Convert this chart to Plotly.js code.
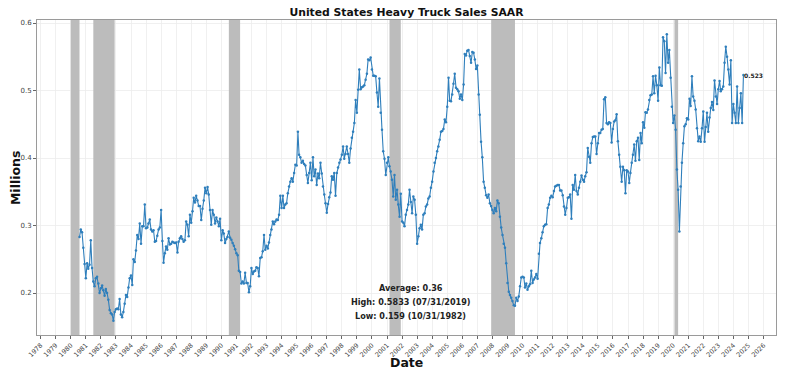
<!DOCTYPE html>
<html>
<head>
<meta charset="utf-8">
<script src="https://cdn.plot.ly/plotly-3.0.1.min.js"></script>
<style>html,body{margin:0;padding:0;background:#fff;}#chart{width:800px;height:374px;}</style>
</head>
<body>
<div id="chart"></div>
<script>
// Monthly values (millions), starting July 1980, month-end dates
const startYear = 1980;
const startMonth = 7;
const values1980s = [
  0.283, 0.294, 0.290, 0.267, 0.243, 0.222,
  0.244, 0.236, 0.242, 0.278, 0.237, 0.217, 0.210, 0.222, 0.224, 0.214, 0.200, 0.207,
  0.211, 0.204, 0.196, 0.206, 0.200, 0.190, 0.175, 0.170, 0.168, 0.159, 0.172, 0.176,
  0.177, 0.176, 0.191, 0.168, 0.164, 0.172, 0.184, 0.197, 0.194, 0.208, 0.222, 0.226,
  0.212, 0.250, 0.246, 0.263, 0.286, 0.280, 0.303, 0.273, 0.299, 0.299, 0.331, 0.296,
  0.297, 0.303, 0.309, 0.294, 0.291, 0.293, 0.276, 0.277, 0.285, 0.294, 0.297, 0.323,
  0.277, 0.245, 0.259, 0.269, 0.264, 0.281, 0.272, 0.273, 0.276, 0.275, 0.274, 0.275,
  0.260, 0.276, 0.281, 0.284, 0.280, 0.276, 0.278, 0.306, 0.301, 0.284, 0.316, 0.304,
  0.321, 0.341, 0.334, 0.344, 0.337, 0.329, 0.329, 0.308, 0.325, 0.337, 0.356, 0.348,
  0.357, 0.346, 0.323, 0.301, 0.323, 0.316, 0.303, 0.312, 0.306, 0.299, 0.310, 0.278
];
const values1990s = [
  0.293, 0.288, 0.274, 0.280, 0.283, 0.291, 0.282, 0.279, 0.274, 0.270, 0.265, 0.259,
  0.256, 0.233, 0.231, 0.214, 0.217, 0.214, 0.230, 0.215, 0.215, 0.201, 0.210, 0.237,
  0.228, 0.232, 0.233, 0.238, 0.237, 0.225, 0.252, 0.253, 0.262, 0.286, 0.264, 0.270,
  0.266, 0.275, 0.286, 0.294, 0.306, 0.302, 0.306, 0.309, 0.308, 0.316, 0.344, 0.326,
  0.344, 0.326, 0.331, 0.333, 0.348, 0.358, 0.365, 0.370, 0.365, 0.378, 0.390, 0.389,
  0.439, 0.405, 0.401, 0.393, 0.396, 0.391, 0.389, 0.375, 0.363, 0.378, 0.393, 0.367,
  0.401, 0.373, 0.383, 0.360, 0.377, 0.370, 0.393, 0.377, 0.358, 0.346, 0.333, 0.319,
  0.332, 0.342, 0.349, 0.373, 0.368, 0.378, 0.344, 0.378, 0.386, 0.393, 0.398, 0.405,
  0.417, 0.399, 0.406, 0.417, 0.406, 0.393, 0.414, 0.430, 0.439, 0.452, 0.486, 0.467,
  0.501, 0.531, 0.502, 0.505, 0.506, 0.508, 0.516, 0.525, 0.546, 0.545, 0.549, 0.531
];
const values2000s = [
  0.522, 0.522, 0.521, 0.497, 0.476, 0.518, 0.467, 0.442, 0.410, 0.399, 0.375, 0.393,
  0.401, 0.388, 0.380, 0.368, 0.343, 0.375, 0.338, 0.353, 0.331, 0.313, 0.347, 0.306,
  0.304, 0.299, 0.316, 0.323, 0.331, 0.353, 0.335, 0.318, 0.343, 0.338, 0.316, 0.273,
  0.284, 0.296, 0.301, 0.294, 0.316, 0.318, 0.328, 0.331, 0.340, 0.343, 0.356, 0.365,
  0.380, 0.393, 0.400, 0.410, 0.417, 0.427, 0.439, 0.440, 0.443, 0.457, 0.453, 0.476,
  0.519, 0.485, 0.484, 0.494, 0.510, 0.525, 0.504, 0.502, 0.499, 0.488, 0.494, 0.486,
  0.509, 0.554, 0.552, 0.559, 0.560, 0.551, 0.541, 0.557, 0.556, 0.546, 0.532, 0.537,
  0.494, 0.464, 0.424, 0.401, 0.365, 0.356, 0.345, 0.341, 0.346, 0.333, 0.329, 0.323,
  0.318, 0.326, 0.321, 0.337, 0.333, 0.313, 0.297, 0.286, 0.273, 0.267, 0.244, 0.215,
  0.202, 0.197, 0.193, 0.188, 0.182, 0.181, 0.193, 0.188, 0.195, 0.210, 0.223, 0.224
];
const values2010s = [
  0.223, 0.208, 0.214, 0.205, 0.210, 0.213, 0.233, 0.215, 0.220, 0.223, 0.228, 0.221,
  0.258, 0.274, 0.281, 0.290, 0.299, 0.301, 0.302, 0.326, 0.331, 0.341, 0.344, 0.342,
  0.351, 0.358, 0.359, 0.360, 0.360, 0.352, 0.352, 0.345, 0.328, 0.316, 0.326, 0.341,
  0.342, 0.346, 0.310, 0.360, 0.353, 0.375, 0.351, 0.346, 0.356, 0.365, 0.374, 0.368,
  0.365, 0.373, 0.379, 0.415, 0.402, 0.393, 0.422, 0.431, 0.432, 0.432, 0.406, 0.422,
  0.437, 0.437, 0.442, 0.443, 0.487, 0.490, 0.452, 0.450, 0.453, 0.452, 0.423, 0.443,
  0.454, 0.456, 0.465, 0.425, 0.405, 0.387, 0.365, 0.387, 0.382, 0.348, 0.382, 0.380,
  0.363, 0.378, 0.393, 0.405, 0.420, 0.396, 0.425, 0.430, 0.397, 0.437, 0.422, 0.453,
  0.445, 0.468, 0.467, 0.472, 0.486, 0.493, 0.494, 0.521, 0.496, 0.522, 0.508, 0.485,
  0.534, 0.508, 0.507, 0.579, 0.573, 0.526, 0.5833, 0.541, 0.560, 0.519, 0.476, 0.452
];
const values2020s = [
  0.463, 0.442, 0.383, 0.353, 0.291, 0.358, 0.393, 0.422, 0.447, 0.450, 0.459, 0.457,
  0.488, 0.477, 0.521, 0.491, 0.485, 0.472, 0.444, 0.425, 0.432, 0.424, 0.444, 0.469,
  0.424, 0.446, 0.467, 0.439, 0.460, 0.474, 0.483, 0.471, 0.515, 0.491, 0.480, 0.502,
  0.514, 0.499, 0.502, 0.506, 0.541, 0.565, 0.550, 0.531, 0.509, 0.545, 0.452, 0.480,
  0.467, 0.452, 0.506, 0.452, 0.474, 0.496, 0.452, 0.523
];

// NBER recession periods
const recessionStarts = ['1980-01-01', '1981-07-01', '1990-07-01', '2001-03-01', '2007-12-01', '2020-02-01'];
const recessionEnds   = ['1980-07-31', '1982-11-30', '1991-03-31', '2001-11-30', '2009-06-30', '2020-04-30'];

// Summary text
const statLines = ['Average: 0.36', 'High: 0.5833 (07/31/2019)', 'Low: 0.159 (10/31/1982)'];

const titleText = 'United States Heavy Truck Sales SAAR';
const yTitle = 'Millions';
const xTitle = 'Date';

const values = [].concat(values1980s, values1990s, values2000s, values2010s, values2020s);
function pad(n){ return (n < 10 ? '0' : '') + n; }
const dates = values.map((v, i) => {
  const total = (startMonth - 1) + i;
  const y = startYear + Math.floor(total / 12);
  const m = total % 12 + 1;
  const last = new Date(Date.UTC(y, m, 0)).getUTCDate();
  return y + '-' + pad(m) + '-' + pad(last);
});

const FONT = 'DejaVu Sans, Liberation Sans, sans-serif';
const lineColor = '#2f7fbc';
const yRange = [0.1378, 0.6045];
const xRange = ['1977-10-04', '2026-10-30'];

// Recession bands as filled traces (drawn above gridlines, below the data line)
const bandTraces = recessionStarts.map((s, i) => ({
  x: [s, s, recessionEnds[i], recessionEnds[i], s],
  y: [yRange[0], yRange[1], yRange[1], yRange[0], yRange[0]],
  type: 'scatter', mode: 'lines', fill: 'toself', fillcolor: '#bcbcbc',
  line: {width: 0, color: '#bcbcbc'}, hoverinfo: 'skip', showlegend: false
}));

const trace = {
  x: dates, y: values, type: 'scatter', mode: 'lines+markers',
  line: {color: lineColor, width: 1.1},
  marker: {color: lineColor, size: 2.5},
  hoverinfo: 'skip', showlegend: false
};

const lastIdx = values.length - 1;
const annotations = [
  {x: dates[lastIdx], y: values[lastIdx], xref: 'x', yref: 'y', text: '<b>' + values[lastIdx].toFixed(3) + '</b>',
   showarrow: false, xanchor: 'left', yanchor: 'middle', xshift: -1, font: {family: FONT, size: 6, color: '#222'}},
  {x: -0.029, y: 0.5, xref: 'paper', yref: 'paper', text: '<b>' + yTitle + '</b>', textangle: -90,
   showarrow: false, xanchor: 'center', yanchor: 'middle', font: {family: FONT, size: 12.5, color: '#111'}},
  {x: 0.5, y: -0.086, xref: 'paper', yref: 'paper', text: '<b>' + xTitle + '</b>',
   showarrow: false, xanchor: 'center', yanchor: 'middle', font: {family: FONT, size: 12.5, color: '#111'}}
];
const statY = [0.150, 0.106, 0.060];
statLines.forEach((t, i) => {
  annotations.push({x: 0.506, y: statY[i], xref: 'paper', yref: 'paper', text: '<b>' + t + '</b>',
    showarrow: false, xanchor: 'center', yanchor: 'middle', font: {family: FONT, size: 8.1, color: '#222'}});
});

const layout = {
  width: 800, height: 374,
  margin: {l: 37, r: 24, t: 20, b: 39},
  paper_bgcolor: '#fff', plot_bgcolor: '#fff',
  font: {family: FONT, color: '#333'},
  title: {text: '<b>' + titleText + '</b>', font: {family: FONT, size: 10.8, color: '#111'},
          x: 0.5, xref: 'paper', y: 0.966, yref: 'container', yanchor: 'middle'},
  xaxis: {
    type: 'date', range: xRange,
    tick0: '1978-01-01', dtick: 'M12', tickformat: '%Y', tickangle: -45,
    tickfont: {family: FONT, size: 6.5, color: '#444'},
    showgrid: true, gridcolor: '#ececec', gridwidth: 0.8,
    showline: true, mirror: true, linecolor: '#9a9a9a', linewidth: 1,
    ticks: 'outside', ticklen: 3, tickcolor: '#666', zeroline: false
  },
  yaxis: {
    range: yRange, tick0: 0, dtick: 0.1, tickformat: '.1f',
    tickfont: {family: FONT, size: 7, color: '#444'},
    showgrid: true, gridcolor: '#ececec', gridwidth: 0.8,
    showline: true, mirror: true, linecolor: '#9a9a9a', linewidth: 1,
    ticks: 'outside', ticklen: 3, tickcolor: '#666', zeroline: false
  },
  annotations: annotations
};

Plotly.newPlot('chart', bandTraces.concat([trace]), layout, {staticPlot: true, displayModeBar: false});
</script>
</body>
</html>
